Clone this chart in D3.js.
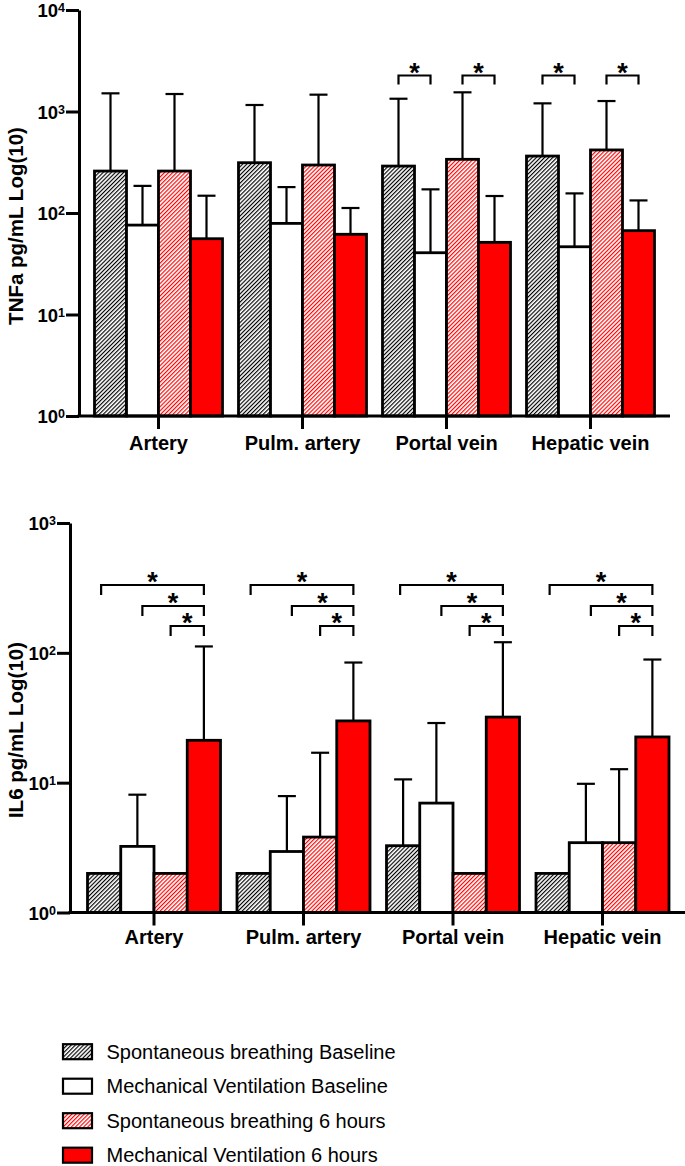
<!DOCTYPE html>
<html>
<head>
<meta charset="utf-8">
<script src="https://cdn.jsdelivr.net/npm/d3@7"></script>
<style>
  html, body { margin: 0; padding: 0; background: #fff; }
  svg { display: block; font-family: "Liberation Sans", Arial, Helvetica, sans-serif; }
</style>
</head>
<body>
<script>
// ---------- DATA ----------
const categories = ["Artery", "Pulm. artery", "Portal vein", "Hepatic vein"];
const seriesNames = [
  "Spontaneous breathing Baseline",
  "Mechanical Ventilation Baseline",
  "Spontaneous breathing 6 hours",
  "Mechanical Ventilation 6 hours"
];

// TNFa (pg/mL): mean and upper error-bar end
const tnfSBBase     = [259, 313, 290, 364];
const tnfSBBaseErr  = [1510, 1159, 1336, 1203];
const tnfMVBase     = [76, 79, 40.6, 46.5];
const tnfMVBaseErr  = [185, 180, 171, 156];
const tnfSB6        = [259, 297, 338, 418];
const tnfSB6Err     = [1487, 1465, 1545, 1268];
const tnfMV6        = [55.8, 61.7, 51.4, 67];
const tnfMV6Err     = [148, 112, 147, 133];

// IL6 (pg/mL): mean and upper error-bar end (null = no visible error bar)
const il6SBBase     = [2, 2, 3.27, 2];
const il6SBBaseErr  = [null, null, 10.6, null];
const il6MVBase     = [3.23, 2.95, 6.96, 3.45];
const il6MVBaseErr  = [8.08, 7.88, 28.8, 9.8];
const il6SB6        = [2, 3.81, 2, 3.45];
const il6SB6Err     = [null, 17.0, null, 12.7];
const il6MV6        = [21.2, 29.9, 32.0, 22.5];
const il6MV6Err     = [112, 84.2, 120.7, 88.8];

// tick values and exponent labels
const tnfTicks = [1, 10, 100, 1000, 10000];
const tnfTickExp = ["0", "1", "2", "3", "4"];
const il6Ticks = [1, 10, 100, 1000];
const il6TickExp = ["0", "1", "2", "3"];

// significance comparisons: category index, series a, series b, level
const tnfSig = [
  {cat: 2, a: 0, b: 1, level: 0}, {cat: 2, a: 2, b: 3, level: 0},
  {cat: 3, a: 0, b: 1, level: 0}, {cat: 3, a: 2, b: 3, level: 0}
];
const il6Sig = [];
categories.forEach((c, i) => {
  il6Sig.push({cat: i, a: 0, b: 3, level: 0});
  il6Sig.push({cat: i, a: 1, b: 3, level: 1});
  il6Sig.push({cat: i, a: 2, b: 3, level: 2});
});

// ---------- DRAW ----------
const W = 685, H = 1166;
const svg = d3.select("body").append("svg").attr("width", W).attr("height", H);

const defs = svg.append("defs");
function hatch(id, color) {
  const p = defs.append("pattern").attr("id", id)
    .attr("patternUnits", "userSpaceOnUse").attr("width", 2.9).attr("height", 10)
    .attr("patternTransform", "rotate(45)");
  p.append("rect").attr("width", 2.9).attr("height", 10).style("fill", "#ffffff");
  p.append("rect").attr("x", 0).attr("width", 1.15).attr("height", 10).style("fill", color);
}
hatch("hatchBlk", "#000000");
hatch("hatchRd", "#ff0000");
const fills = ["url(#hatchBlk)", "#ffffff", "url(#hatchRd)", "#ff0000"];

function panel(cfg) {
  const g = svg.append("g");
  const y = d3.scaleLog().domain(cfg.yDomain).range(cfg.yRange);
  const x0 = d3.scaleBand().domain(categories).range(cfg.bandRange).padding(0);
  const x1 = d3.scaleBand().domain(d3.range(4)).range(cfg.innerRange).padding(0);
  const base = y(1);

  const rows = [];
  categories.forEach((c, ci) => {
    cfg.means.forEach((arr, si) => {
      rows.push({c, ci, si, v: arr[ci], e: cfg.errs[si][ci]});
    });
  });

  // error bars
  const eb = g.append("g").attr("stroke", "#000").attr("stroke-width", 2.2).attr("fill", "none");
  rows.filter(d => d.e != null).forEach(d => {
    const cx = x0(d.c) + x1(d.si) + x1.bandwidth() / 2;
    eb.append("line").attr("x1", cx).attr("x2", cx).attr("y1", y(d.v)).attr("y2", y(d.e));
    eb.append("line").attr("x1", cx - 9).attr("x2", cx + 9).attr("y1", y(d.e)).attr("y2", y(d.e));
  });

  // bars
  g.append("g").selectAll("rect").data(rows).join("rect")
    .attr("x", d => x0(d.c) + x1(d.si))
    .attr("y", d => y(d.v))
    .attr("width", x1.bandwidth())
    .attr("height", d => base - y(d.v))
    .style("fill", d => fills[d.si])
    .attr("stroke", "#000").attr("stroke-width", 2.8);

  // y axis
  const ya = g.append("g").attr("transform", `translate(${cfg.axisX},0)`)
    .call(d3.axisLeft(y).tickValues(cfg.ticks).tickFormat("").tickSize(13).tickSizeOuter(0));
  ya.select(".domain").attr("stroke-width", 3);
  ya.selectAll(".tick line").attr("stroke-width", 3);
  ya.selectAll(".tick").each(function(d, i) {
    const t = d3.select(this);
    t.append("text").attr("x", -21).attr("y", 6.5).attr("text-anchor", "end")
      .attr("fill", "#000").attr("font-size", 18.5).attr("font-weight", "bold")
      .attr("font-family", "Liberation Sans, Arial, sans-serif").text("10");
    t.append("text").attr("x", -21).attr("y", 1.5).attr("text-anchor", "start")
      .attr("fill", "#000").attr("font-size", 12.5).attr("font-weight", "bold")
      .attr("font-family", "Liberation Sans, Arial, sans-serif").text(cfg.tickExp[i]);
  });

  // x axis
  g.append("line").attr("x1", cfg.axisX - 1.5).attr("x2", cfg.axisEnd)
    .attr("y1", base).attr("y2", base).attr("stroke", "#000").attr("stroke-width", 3);
  const xa = g.append("g").attr("transform", `translate(0,${base})`)
    .call(d3.axisBottom(x0).tickSize(13).tickSizeOuter(0));
  xa.select(".domain").remove();
  xa.selectAll(".tick line").attr("stroke-width", 3);
  xa.selectAll(".tick text").attr("y", cfg.labelDy).attr("dy", 0)
    .attr("fill", "#000").attr("font-size", 20).attr("font-weight", "bold")
    .attr("font-family", "Liberation Sans, Arial, sans-serif");

  // y label
  g.append("text").attr("transform", `translate(${cfg.ylabX},${cfg.ylabY}) rotate(-90)`)
    .attr("text-anchor", "middle").attr("font-size", 20.5).attr("font-weight", "bold")
    .attr("dominant-baseline", "central").text(cfg.ylabel);

  // significance brackets
  const sg = g.append("g");
  cfg.sig.forEach(s => {
    const xa_ = x0(categories[s.cat]) + x1(s.a) + x1.bandwidth() / 2 + (cfg.sigOffA ? cfg.sigOffA[s.level] : 0);
    const xb_ = x0(categories[s.cat]) + x1(s.b) + x1.bandwidth() / 2;
    const yt = cfg.sigY[s.level];
    sg.append("path")
      .attr("d", `M${xa_},${yt + cfg.sigLeg} V${yt} H${xb_} V${yt + cfg.sigLeg}`)
      .attr("fill", "none").attr("stroke", "#000").attr("stroke-width", 2.2);
    sg.append("text").attr("x", (xa_ + xb_) / 2).attr("y", yt + 6)
      .attr("text-anchor", "middle").attr("font-size", 27).attr("font-weight", "bold")
      .text("*");
  });
}

panel({
  yDomain: [1, 10000], yRange: [416, 10],
  bandRange: [86.5, 662.5], innerRange: [8, 136],
  axisX: 79, axisEnd: 670,
  means: [tnfSBBase, tnfMVBase, tnfSB6, tnfMV6],
  errs: [tnfSBBaseErr, tnfMVBaseErr, tnfSB6Err, tnfMV6Err],
  ticks: tnfTicks, tickExp: tnfTickExp,
  labelDy: 34,
  ylabel: "TNFa pg/mL Log(10)", ylabX: 15, ylabY: 226,
  sig: tnfSig, sigY: [75.5], sigLeg: 9
});

panel({
  yDomain: [1, 1000], yRange: [912.5, 523],
  bandRange: [79.25, 677.25], innerRange: [8.25, 141.25],
  axisX: 70, axisEnd: 685,
  means: [il6SBBase, il6MVBase, il6SB6, il6MV6],
  errs: [il6SBBaseErr, il6MVBaseErr, il6SB6Err, il6MV6Err],
  ticks: il6Ticks, tickExp: il6TickExp,
  labelDy: 31,
  ylabel: "IL6 pg/mL Log(10)", ylabX: 15, ylabY: 730,
  sig: il6Sig, sigY: [585, 606, 626], sigLeg: 10, sigOffA: [-3, 5, 0]
});

// legend
const lg = svg.append("g");
seriesNames.forEach((name, i) => {
  const cy = 1051.7 + i * 34.5;
  lg.append("rect").attr("x", 63).attr("y", cy - 7.5).attr("width", 29).attr("height", 15)
    .style("fill", fills[i]).attr("stroke", "#000").attr("stroke-width", 2.2);
  lg.append("text").attr("x", 106.5).attr("y", cy).attr("dominant-baseline", "central")
    .attr("font-size", 20).attr("fill", "#000").text(name);
});
</script>
</body>
</html>
